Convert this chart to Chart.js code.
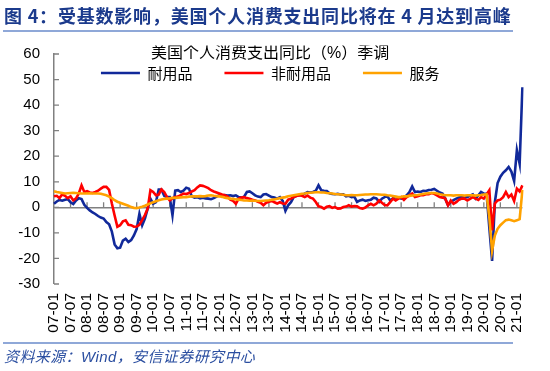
<!DOCTYPE html>
<html><head><meta charset="utf-8">
<script src="https://cdn.jsdelivr.net/npm/chart.js@4.4.1/dist/chart.umd.min.js"></script>
<style>
html,body{margin:0;padding:0;background:#fff;width:550px;height:371px;overflow:hidden;}
#wrap{position:relative;width:550px;height:371px;}
#title{position:absolute;left:4px;top:2px;font:bold 18px 'Noto Sans CJK SC',sans-serif;color:#1b3a8c;white-space:nowrap;line-height:27px;letter-spacing:0.8px;}
#tline{position:absolute;left:3px;top:30px;width:510px;height:0;border-top:2px solid #8fa8d8;}
#bline{position:absolute;left:3px;top:342px;width:510px;height:0;border-top:2px solid #8fa8d8;}
#src{position:absolute;left:4px;top:346px;font:italic 15px 'Liberation Sans','Noto Sans CJK SC',sans-serif;color:#2a4ea0;white-space:nowrap;line-height:22px;letter-spacing:0.4px;}
canvas{position:absolute;left:0;top:0;}
</style></head>
<body><div id="wrap">
<canvas id="c" width="550" height="371"></canvas>
<div id="title">图 4：受基数影响，美国个人消费支出同比将在 4 月达到高峰</div>
<div id="tline"></div>
<div id="bline"></div>
<div id="src">资料来源：Wind，安信证券研究中心</div>
</div>
<script>
// Monthly categories 2007-01 .. 2021-03
const months = [];
for (let y = 7; y <= 21; y++) {
  for (let m = 1; m <= 12; m++) {
    if (y === 21 && m > 3) break;
    months.push(String(y).padStart(2, '0') + '-' + String(m).padStart(2, '0'));
  }
}
const xTickLabels = ['07-01','07-07','08-01','08-07','09-01','09-07','10-01','10-07','11-01','11-07','12-01','12-07','13-01','13-07','14-01','14-07','15-01','15-07','16-01','16-07','17-01','17-07','18-01','18-07','19-01','19-07','20-01','20-07','21-01'];
const yTicks = [-30, -20, -10, 0, 10, 20, 30, 40, 50, 60];
const legendTitle = '美国个人消费支出同比（%）季调';
const seriesNames = ['耐用品', '非耐用品', '服务'];

const durable = [
 1.4, 2.3, 2.9, 2.6, 3.0, 3.2, 2.0, 1.3, 2.7, 3.6, 3.2, 1.0,
 -0.2, -1.2, -2.0, -2.6, -3.4, -4.0, -4.4, -5.8, -6.6, -9.5, -14.5, -16.0,
 -15.8, -13.0, -12.3, -13.6, -12.8, -11.0, -8.5, -2.5, -7.0, -4.4, -0.5, 3.4,
 1.4, 2.0, 7.0, 7.0, 4.5, 4.0, 4.0, -3.1, 6.5, 6.7, 6.0, 6.5,
 7.7, 7.3, 4.3, 3.8, 4.0, 3.5, 3.8, 3.5, 3.4, 3.2, 3.6, 4.2,
 4.7, 4.5, 4.8, 4.6, 4.7, 4.4, 4.7, 4.0, 3.8, 4.2, 6.0, 6.2,
 5.5, 4.7, 4.2, 4.0, 5.0, 5.2, 4.6, 4.0, 3.8, 3.4, 4.0, 2.5,
 -1.4, 0.8, 2.0, 4.0, 4.5, 4.7, 4.8, 5.4, 6.0, 5.8, 6.0, 6.5,
 8.6, 6.7, 6.5, 6.4, 5.5, 5.2, 5.1, 5.3, 5.0, 5.1, 4.3, 4.5,
 4.0, 4.2, 2.1, 2.7, 3.0, 2.5, 2.8, 3.0, 3.8, 3.5, 2.1, 3.4,
 4.0, 4.3, 2.7, 3.5, 4.0, 3.8, 3.4, 4.0, 4.7, 6.0, 8.2, 6.0,
 6.2, 6.0, 6.5, 6.4, 6.8, 6.9, 7.2, 6.5, 5.8, 5.4, 3.4, 0.8,
 2.1, 2.8, 3.4, 3.8, 4.0, 4.2, 4.0, 4.6, 5.1, 3.4, 4.7, 6.0,
 5.4, 5.3, -8.0, -21.0, 2.0, 9.5, 12.0, 13.5, 14.5, 15.8, 14.0, 10.3,
 22.4, 17.0, 47.0
];
const nondurable = [
 4.3, 4.5, 3.6, 5.1, 4.5, 3.6, 4.3, 2.7, 3.5, 5.4, 8.6, 6.0,
 6.3, 5.8, 5.6, 6.0, 6.5, 7.3, 8.0, 8.0, 6.8, 1.5, -3.2, -7.6,
 -7.0, -5.5, -5.1, -6.8, -7.0, -7.6, -7.5, -6.8, -5.0, -3.0, -0.5, 6.7,
 6.0, 4.7, 5.0, 7.0, 6.0, 4.0, 2.7, 3.5, 4.0, 4.2, 4.8, 5.4,
 5.2, 5.6, 6.2, 6.7, 7.8, 8.6, 8.4, 8.0, 7.5, 6.7, 6.2, 5.8,
 5.4, 5.0, 4.7, 4.2, 3.0, 2.5, 1.4, 3.4, 3.8, 4.0, 3.6, 3.4,
 3.0, 2.7, 2.2, 1.8, 0.8, 1.8, 2.2, 2.5, 2.0, 1.5, 2.0, 1.5,
 1.4, 3.0, 3.4, 4.0, 4.4, 4.7, 4.5, 4.0, 4.6, 3.8, 3.4, 2.1,
 0.4, 0.1, -0.5, 0.2, 0.5, -0.2, 0.1, -0.5, -0.4, 0.1, 0.3, 0.8,
 0.3, 0.5, 0.4, -0.3, -0.5, -0.1, 0.8, 1.4, 0.8, 1.4, 2.7, 1.8,
 0.9, 0.8, 2.0, 3.4, 2.7, 3.4, 4.0, 2.9, 4.0, 4.7, 5.4, 4.0,
 4.3, 4.7, 4.7, 5.1, 5.1, 5.6, 5.3, 4.7, 4.0, 3.8, 3.4, 0.8,
 2.7, 1.4, 2.0, 3.0, 3.4, 3.4, 2.7, 3.3, 4.0, 3.4, 2.9, 4.0,
 3.4, 5.0, 6.7, -9.0, 1.5, 2.7, 3.0, 4.0, 6.0, 4.0, 5.0, 2.5,
 7.3, 6.2, 8.6
];
const services = [
 6.3, 6.0, 5.8, 5.6, 5.4, 5.5, 5.6, 5.7, 5.6, 5.5, 5.4, 5.4,
 5.4, 5.5, 5.4, 5.4, 5.4, 5.3, 5.0, 4.7, 4.2, 3.6, 2.8, 2.2,
 1.8, 1.4, 1.0, 0.6, 0.1, -0.2, -0.3, -0.1, 0.2, 0.6, 1.1, 1.6,
 2.0, 2.4, 2.8, 3.1, 3.3, 3.4, 3.5, 3.7, 3.7, 3.8, 3.9, 4.0,
 4.0, 4.2, 4.3, 4.3, 4.3, 4.4, 4.3, 4.4, 4.6, 4.7, 4.5, 4.4,
 4.3, 4.1, 3.8, 3.6, 3.4, 3.3, 3.1, 3.0, 2.9, 2.7, 2.7, 2.6,
 2.7, 2.6, 2.5, 2.5, 2.6, 2.7, 2.8, 3.0, 3.1, 3.4, 3.6, 3.8,
 4.0, 4.3, 4.5, 4.7, 4.9, 5.1, 5.3, 5.4, 5.6, 5.7, 5.8, 5.9,
 5.9, 5.8, 5.8, 5.6, 5.5, 5.4, 5.2, 5.1, 5.0, 4.9, 4.7, 4.7,
 4.8, 4.7, 4.7, 4.8, 4.9, 5.0, 5.0, 5.1, 5.1, 5.1, 5.0, 4.9,
 4.9, 4.7, 4.6, 4.4, 4.2, 4.0, 4.1, 4.3, 4.3, 4.5, 4.6, 4.7,
 4.8, 5.0, 5.2, 5.4, 5.5, 5.6, 5.6, 5.4, 5.1, 4.9, 4.7, 4.7,
 4.7, 4.6, 4.7, 4.7, 4.7, 4.6, 4.7, 4.7, 4.7, 4.6, 4.7, 4.8,
 5.0, 5.1, -4.0, -17.0, -11.0, -8.4, -7.0, -6.0, -5.0, -4.8, -5.1, -5.4,
 -5.1, -4.6, 6.8
];

const AXIS_GREY = '#808080';

const axisDeco = {
  id: 'axisDeco',
  afterLayout(chart) {
    // place the legend inside the plot area, near its top
    const lg = chart.legend;
    if (!lg) return;
    const ca = chart.chartArea;
    lg.left = ca.left - 18;
    lg.right = ca.right - 18;
    lg.width = lg.right - lg.left;
    lg.top = 45.5;
    lg.bottom = 110;
    lg.height = lg.bottom - lg.top;
  },
  beforeDatasetsDraw(chart) {
    const {ctx, chartArea, scales: {x, y}} = chart;
    ctx.save();
    ctx.strokeStyle = AXIS_GREY;
    ctx.lineWidth = 1.3;
    const y0 = y.getPixelForValue(0);
    ctx.beginPath();
    months.forEach((m, i) => {
      if (i > 0 && xTickLabels.includes(m)) {
        const px = x.getPixelForValue(i);
        ctx.moveTo(px, y0);
        ctx.lineTo(px, y0 - 5);
      }
    });
    y.ticks.forEach(t => {
      const py = y.getPixelForValue(t.value);
      ctx.moveTo(chartArea.left, py);
      ctx.lineTo(chartArea.left + 5, py);
    });
    ctx.stroke();
    ctx.restore();
  }
};

new Chart(document.getElementById('c'), {
  type: 'line',
  data: {
    labels: months,
    datasets: [
      { label: seriesNames[0], data: durable, borderColor: '#11299a', backgroundColor: '#11299a', borderWidth: 2.6, pointRadius: 0, tension: 0, order: 2 },
      { label: seriesNames[1], data: nondurable, borderColor: '#ff0000', backgroundColor: '#ff0000', borderWidth: 2.6, pointRadius: 0, tension: 0, order: 1 },
      { label: seriesNames[2], data: services, borderColor: '#ffa200', backgroundColor: '#ffa200', borderWidth: 2.6, pointRadius: 0, tension: 0, order: 0 }
    ]
  },
  options: {
    responsive: false,
    animation: false,
    devicePixelRatio: 1,
    layout: { padding: { top: 54, left: 0, right: 24.5, bottom: 37 } },
    plugins: {
      tooltip: { enabled: false },
      legend: {
        position: 'top',
        align: 'center',
        maxHeight: 0.001,
        title: {
          display: true,
          text: legendTitle,
          color: '#000',
          font: { size: 16, family: "'Liberation Sans','Noto Sans CJK SC',sans-serif" },
          padding: { top: 0, bottom: -31.2 }
        },
        labels: {
          usePointStyle: true,
          pointStyle: 'line',
          pointStyleWidth: 39,
          padding: 32,
          color: '#000',
          font: { size: 15, family: "'Noto Sans CJK SC','Liberation Sans',sans-serif" },
          sort: (a, b) => a.datasetIndex - b.datasetIndex
        }
      }
    },
    scales: {
      x: {
        type: 'category',
        offset: false,
        border: { display: false },
        grid: { display: false, drawTicks: false },
        ticks: {
          autoSkip: false,
          maxRotation: 90,
          minRotation: 90,
          padding: 9,
          color: '#000',
          font: { size: 15.5, family: "'Liberation Sans',sans-serif" },
          callback: function(val) {
            const lbl = this.getLabelForValue(val);
            return xTickLabels.includes(lbl) ? lbl : '';
          }
        },
        afterFit: s => { s.height = 50; }
      },
      y: {
        min: yTicks[0],
        max: yTicks[yTicks.length - 1],
        border: { display: true, color: AXIS_GREY, width: 1.5 },
        grid: {
          drawTicks: false,
          color: c => (c.tick && c.tick.value === 0) ? AXIS_GREY : 'rgba(0,0,0,0)',
          lineWidth: c => (c.tick && c.tick.value === 0) ? 1.6 : 0
        },
        ticks: {
          stepSize: 10,
          padding: 14,
          color: '#000',
          font: { size: 15, family: "'Liberation Sans',sans-serif" }
        },
        afterFit: s => { s.width = 54; }
      }
    }
  },
  plugins: [axisDeco]
});
</script>
</body></html>
